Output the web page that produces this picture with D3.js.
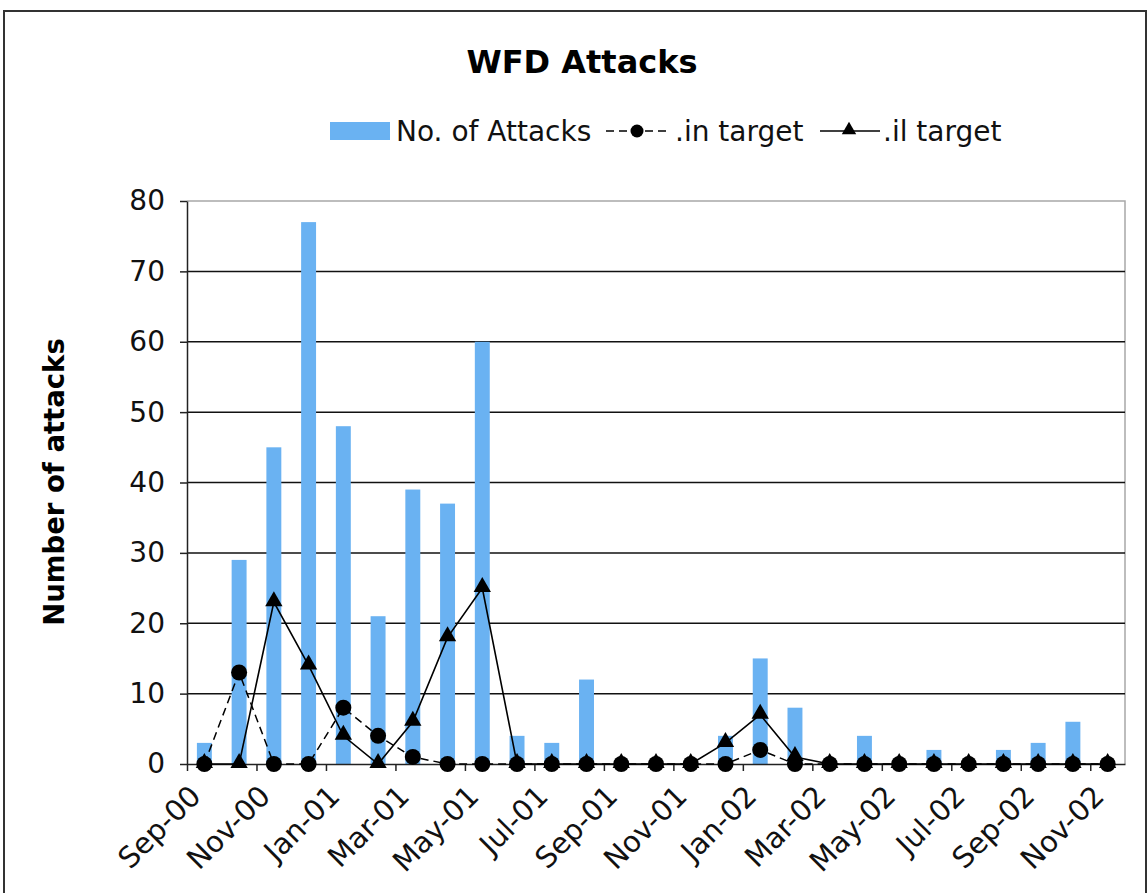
<!DOCTYPE html>
<html>
<head>
<meta charset="utf-8">
<script src="https://cdn.jsdelivr.net/npm/d3@7"></script>
<style>
  html, body { margin: 0; padding: 0; background: #fff; }
  svg { display: block; font-family: "DejaVu Sans", Verdana, sans-serif; }
</style>
</head>
<body>
<svg id="chart" width="1148" height="893"></svg>
<script>
// Monthly categories, Sep-00 through Nov-02
const months = ["Sep-00","Oct-00","Nov-00","Dec-00","Jan-01","Feb-01","Mar-01","Apr-01","May-01","Jun-01",
  "Jul-01","Aug-01","Sep-01","Oct-01","Nov-01","Dec-01","Jan-02","Feb-02","Mar-02","Apr-02",
  "May-02","Jun-02","Jul-02","Aug-02","Sep-02","Oct-02","Nov-02"];

// Series values
const attacks  = [3,29,45,77,48,21,39,37,60,4,3,12,0,0,0,4,15,8,0,4,0,2,0,2,3,6,0];
const inTarget = [0,13,0,0,8,4,1,0,0,0,0,0,0,0,0,0,2,0,0,0,0,0,0,0,0,0,0];
const ilTarget = [0,0,23,14,4,0,6,18,25,0,0,0,0,0,0,3,7,1,0,0,0,0,0,0,0,0,0];

// Axis ticks
const yTicks = [0,10,20,30,40,50,60,70,80];
const xTickIdx = [0,2,4,6,8,10,12,14,16,18,20,22,24,26];

(function draw() {
  const svg = d3.select("#chart");
  const plotL = 187, plotR = 1125, plotT = 201, plotB = 764;
  const barColor = "#6ab2f2";
  const font = "DejaVu Sans, Verdana, sans-serif";

  // outer frame
  svg.append("rect").attr("x", 4).attr("y", 11).attr("width", 1142).attr("height", 900)
    .attr("fill", "#fff").attr("stroke", "#333").attr("stroke-width", 2);

  const x = d3.scaleBand().domain(months).range([plotL, plotR]).paddingInner(0.57).paddingOuter(0.285);
  const xEdge = d3.scaleLinear().domain([0, months.length]).range([plotL, plotR]);
  const y = d3.scaleLinear().domain([0, 80]).range([plotB, plotT]);

  // plot area border (top/right)
  svg.append("path")
    .attr("d", `M${plotL},${plotT}H${plotR}V${plotB}`)
    .attr("fill", "none").attr("stroke", "#a8a8a8").attr("stroke-width", 1.5);

  // gridlines
  svg.append("g").selectAll("line").data(yTicks.filter(v => v > 0 && v < 80)).join("line")
    .attr("x1", plotL).attr("x2", plotR)
    .attr("y1", d => y(d)).attr("y2", d => y(d))
    .attr("stroke", "#111").attr("stroke-width", 1.5);

  // bars
  svg.append("g").selectAll("rect").data(attacks).join("rect")
    .attr("x", (d, i) => x(months[i]))
    .attr("width", x.bandwidth())
    .attr("y", d => y(d))
    .attr("height", d => y(0) - y(d))
    .attr("fill", barColor);

  // y axis
  const yAxis = svg.append("g").attr("transform", `translate(${plotL},0)`)
    .call(d3.axisLeft(y).tickValues(yTicks).tickSize(7).tickPadding(15).tickSizeOuter(0));
  yAxis.select(".domain").attr("stroke", "#222").attr("stroke-width", 1.5);
  yAxis.selectAll(".tick line").attr("stroke", "#222").attr("stroke-width", 1.5);
  yAxis.selectAll("text").attr("font-size", 28).attr("fill", "#111").attr("font-family", font);

  // x axis
  const xAxis = svg.append("g").attr("transform", `translate(0,${plotB})`)
    .call(d3.axisBottom(xEdge).tickValues(xTickIdx).tickFormat(i => months[i]).tickSize(7).tickSizeOuter(0));
  xAxis.select(".domain").attr("stroke", "#222").attr("stroke-width", 1.5);
  xAxis.selectAll(".tick line").attr("stroke", "#222").attr("stroke-width", 1.5);
  xAxis.selectAll("text")
    .attr("font-size", 29).attr("fill", "#111").attr("font-family", font)
    .attr("text-anchor", "end")
    .attr("y", 0).attr("dy", 0)
    .attr("transform", "translate(15,34) rotate(-45)");

  const cx = (i) => x(months[i]) + x.bandwidth() / 2;
  const line = d3.line().x((d, i) => cx(i)).y(d => y(d));

  // .il target (solid, triangles)
  svg.append("path").datum(ilTarget).attr("d", line)
    .attr("fill", "none").attr("stroke", "#000").attr("stroke-width", 1.6);
  const tri = d3.symbol().type(d3.symbolTriangle).size(130);
  svg.append("g").selectAll("path").data(ilTarget).join("path")
    .attr("d", tri).attr("transform", (d, i) => `translate(${cx(i)},${y(d) - 1})`).attr("fill", "#000");

  // .in target (dashed, circles)
  svg.append("path").datum(inTarget).attr("d", line)
    .attr("fill", "none").attr("stroke", "#000").attr("stroke-width", 1.5).attr("stroke-dasharray", "8,5");
  svg.append("g").selectAll("circle").data(inTarget).join("circle")
    .attr("cx", (d, i) => cx(i)).attr("cy", d => y(d)).attr("r", 8).attr("fill", "#000");

  // title
  svg.append("text").attr("x", 582).attr("y", 73).attr("text-anchor", "middle")
    .attr("font-size", 32).attr("font-weight", "bold").attr("fill", "#000").text("WFD Attacks");

  // y axis title
  svg.append("text").attr("transform", "translate(64,482) rotate(-90)").attr("text-anchor", "middle")
    .attr("font-size", 27.5).attr("font-weight", "bold").attr("fill", "#000").text("Number of attacks");

  // legend
  const lg = svg.append("g");
  lg.append("rect").attr("x", 330).attr("y", 122).attr("width", 60).attr("height", 18).attr("fill", barColor);
  lg.append("text").attr("x", 396).attr("y", 141).attr("font-size", 28).attr("fill", "#111").text("No. of Attacks");
  lg.append("line").attr("x1", 606).attr("x2", 670).attr("y1", 131).attr("y2", 131)
    .attr("stroke", "#000").attr("stroke-width", 1.5).attr("stroke-dasharray", "8,5");
  lg.append("circle").attr("cx", 637).attr("cy", 131).attr("r", 6.5).attr("fill", "#000");
  lg.append("text").attr("x", 675).attr("y", 141).attr("font-size", 28).attr("fill", "#111").text(".in target");
  lg.append("line").attr("x1", 820).attr("x2", 880).attr("y1", 131).attr("y2", 131)
    .attr("stroke", "#000").attr("stroke-width", 1.5);
  lg.append("path").attr("d", d3.symbol().type(d3.symbolTriangle).size(90))
    .attr("transform", "translate(849,130)").attr("fill", "#000");
  lg.append("text").attr("x", 883).attr("y", 141).attr("font-size", 28).attr("fill", "#111").text(".il target");
})();
</script>
</body>
</html>
